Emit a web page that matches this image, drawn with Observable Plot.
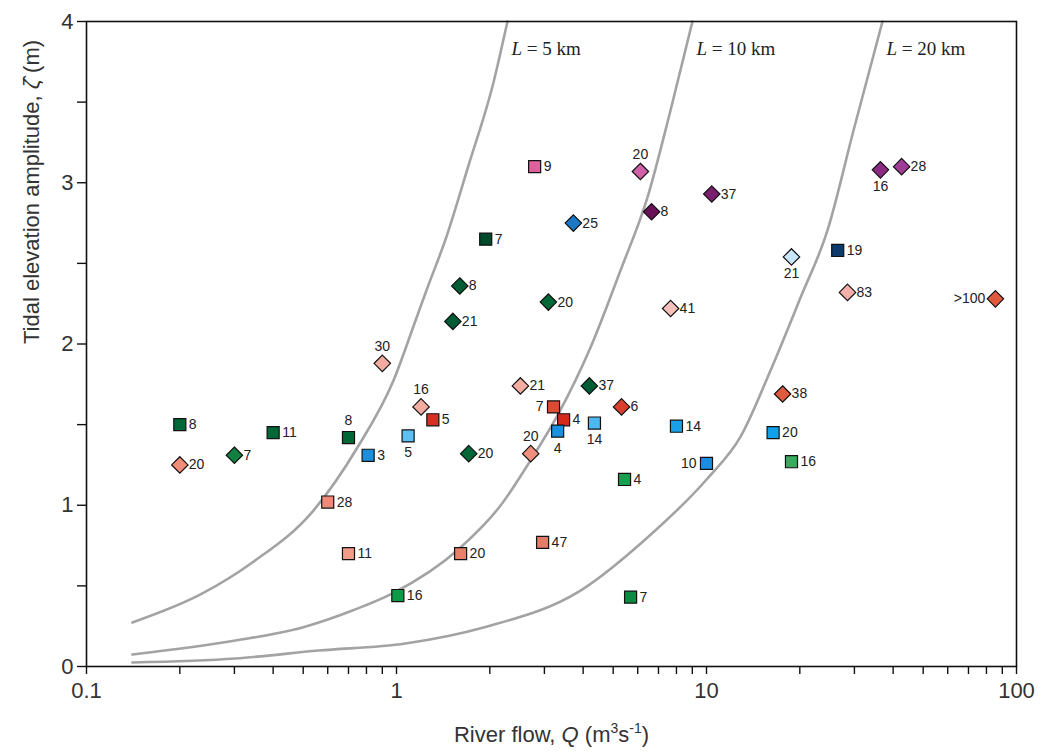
<!DOCTYPE html>
<html><head><meta charset="utf-8">
<script src="https://cdn.jsdelivr.net/npm/d3@7"></script>
<script src="https://cdn.jsdelivr.net/npm/@observablehq/plot@0.6"></script>
<style>body{margin:0;background:#fff}</style>
</head><body><div id="chart"></div>
<script>
// River flow Q (m3/s) of each estuary
const flowQ = [0.20,0.20,0.30,0.40,0.70,0.81,0.60,0.70,0.90,1.20,
               1.31,1.09,1.71,1.61,1.01,2.51,3.21,3.46,3.31,2.71,
               4.19,5.32,4.35,5.44,2.96,5.69,2.79,6.12,6.65,10.4,
               3.72,1.94,1.60,1.52,3.09,7.66,8.0,10.0,17.6,16.4,
               18.8,18.8,26.5,28.5,36.4,42.6,85.5];
// Tidal elevation amplitude (m)
const zeta  = [1.50,1.25,1.31,1.45,1.42,1.31,1.02,0.70,1.88,1.61,
               1.53,1.43,1.32,0.70,0.44,1.74,1.61,1.53,1.46,1.32,
               1.74,1.61,1.51,1.16,0.77,0.43,3.10,3.07,2.82,2.93,
               2.75,2.65,2.36,2.14,2.26,2.22,1.49,1.26,1.69,1.45,
               1.27,2.54,2.58,2.32,3.08,3.10,2.28];
// Point annotations
const labels = ["8","20","7","11","8","3","28","11","30","16",
                "5","5","20","20","16","21","7","4","4","20",
                "37","6","14","4","47","7","9","20","8","37",
                "25","7","8","21","20","41","14","10","38","20",
                "16","21","19","83","16","28",">100"];
// s = square, d = diamond
const shapes = ["s","d","d","s","s","s","s","s","d","d",
                "s","s","d","s","s","d","s","s","s","d",
                "d","d","s","s","s","s","s","d","d","d",
                "d","s","d","d","d","d","s","s","d","s",
                "s","d","s","d","d","d","d"];
// label side: R right, L left, A above, B below
const sides  = ["R","R","R","R","A","R","R","R","A","A",
                "R","B","R","R","R","R","L","R","B","A",
                "R","R","B","R","R","R","R","A","R","R",
                "R","R","R","R","R","R","R","L","R","R",
                "R","B","R","R","B","R","L"];
const colors = ["#006837","#f08c78","#128040","#006837","#006837","#1a8fe0","#ee8a78","#f09c88","#f4aca0","#f4aca0",
                "#d73022","#5cc0f5","#006837","#e8806c","#0f9a48","#f4aca0","#e04a32","#d42a1c","#1a90e0","#f0907c",
                "#005c34","#d9402c","#4cb8f2","#18a050","#e47c68","#0c8c42","#e0609e","#d060a8","#6a1258","#7a1e6e",
                "#1a78c4","#004a2c","#005c34","#005c34","#006837","#f8c0bc","#1aa0e8","#1a8ee0","#e05a40","#12a0e8",
                "#3aaa5c","#c8e6fa","#0c3a6c","#f4b0a8","#8a2a80","#a03c98","#e05a40"];

// Convergence-length curves
const curve5Q  = [0.1406,0.2366,0.3427,0.5395,0.748,0.978,1.152,1.259,1.439,1.707,2.055,2.28];
const curve5Z  = [0.273,0.453,0.645,0.967,1.358,1.774,2.146,2.350,2.648,3.107,3.622,4.0];
const curve10Q = [0.1406,0.3024,0.4974,0.721,0.971,1.609,2.166,2.706,3.307,4.225,5.279,6.451,7.654,9.01];
const curve10Z = [0.074,0.161,0.242,0.347,0.453,0.738,0.998,1.278,1.557,1.978,2.456,2.909,3.448,4.0];
const curve20Q = [0.1406,0.3024,0.560,1.069,1.908,3.923,6.451,10.07,12.88,16.09,20.11,24.56,29.8,36.96];
const curve20Z = [0.025,0.050,0.099,0.143,0.242,0.471,0.80,1.166,1.426,1.836,2.288,2.704,3.324,4.0];
const curveNames = ["L = 5 km","L = 10 km","L = 20 km"];

const xMajor = [0.1,1,10,100];
const xMinor = [2,3,4,5,6,7,8,9].flatMap(m => [0.1,1,10].map(d => +(m*d).toPrecision(3)));
const yMajor = [0,1,2,3,4];
const yMinor = [0.5,1.5,2.5,3.5];

const xTitle = "River flow, Q (m3s-1)";
const yTitle = "Tidal elevation amplitude, ζ̂ (m)";

const points = flowQ.map((q,i)=>({q, z: zeta[i], label: labels[i], shape: shapes[i], color: colors[i], side: sides[i]}));
const curveSets = [[curve5Q,curve5Z],[curve10Q,curve10Z],[curve20Q,curve20Z]];
const curveRows = curveSets.flatMap(([qs,zs],k) => qs.map((q,i)=>({curve: curveNames[k], q, z: zs[i]})));
const curveLabels = curveSets.map(([qs],k)=>({text: curveNames[k], q: qs[qs.length-1]}));

const labelFont = {fontSize: 14, fill: "#222", fontFamily: "Liberation Sans"};

const chart = Plot.plot({
  width: 1047, height: 754,
  marginLeft: 86, marginRight: 31, marginTop: 21, marginBottom: 88,
  style: {fontFamily: "Liberation Sans", background: "white", color: "#333"},
  x: {type: "log", domain: [0.1, 100]},
  y: {domain: [0, 4]},
  color: {type: "identity"},
  marks: [
    Plot.line(curveRows, {x: "q", y: "z", z: "curve", stroke: "#a3a3a3", strokeWidth: 2.6, curve: "monotone-x"}),
    Plot.text(curveLabels, {x: "q", y: 3.83, text: "text", textAnchor: "start", dx: 4, fontSize: 19, fontFamily: "Liberation Serif", fill: "#222"}),
    Plot.dot(points.filter(d=>d.shape==="s"), {x: "q", y: "z", symbol: "square", r: 6.8, fill: "color", stroke: "#111", strokeWidth: 1.2}),
    Plot.dot(points.filter(d=>d.shape==="d"), {x: "q", y: "z", symbol: "diamond2", r: 7.4, fill: "color", stroke: "#111", strokeWidth: 1.2}),
    Plot.text(points.filter(d=>d.side==="R"), {x: "q", y: "z", text: "label", textAnchor: "start", dx: 9, ...labelFont}),
    Plot.text(points.filter(d=>d.side==="L"), {x: "q", y: "z", text: "label", textAnchor: "end", dx: -10, ...labelFont}),
    Plot.text(points.filter(d=>d.side==="A"), {x: "q", y: "z", text: "label", dy: -17, ...labelFont}),
    Plot.text(points.filter(d=>d.side==="B"), {x: "q", y: "z", text: "label", dy: 17, ...labelFont}),
    Plot.axisX({ticks: xMajor, tickFormat: d => String(d), tickSize: 8, tickPadding: 8, fontSize: 22, strokeWidth: 1.4, stroke: "#111", label: null}),
    Plot.axisX({ticks: xMinor, tickFormat: () => "", tickSize: 8, strokeWidth: 1.4, stroke: "#111", label: null}),
    Plot.axisY({ticks: yMajor, tickFormat: d => String(d), tickSize: 9, tickPadding: 4, fontSize: 22, strokeWidth: 1.4, stroke: "#111", label: null}),
    Plot.axisY({ticks: yMinor, tickFormat: () => "", tickSize: 9, strokeWidth: 1.4, stroke: "#111", label: null}),
    Plot.frame({stroke: "#111", strokeWidth: 1.6}),
    Plot.text([xTitle], {frameAnchor: "bottom", dy: 75, fontSize: 22, fill: "#333"}),
    Plot.text([yTitle], {frameAnchor: "left", dx: -55, rotate: -90, fontSize: 22, fill: "#333"})
  ]
});
document.getElementById("chart").appendChild(chart);

const svg = d3.select(chart);
const byText = pred => svg.selectAll("text").filter(function(){ return pred(this.textContent); });
byText(t => curveNames.includes(t)).each(function(){
  const rest = this.textContent.replace(/^L/, "");
  const t = d3.select(this); this.textContent = "";
  t.append("tspan").attr("font-style","italic").text("L");
  t.append("tspan").text(rest);
});
byText(t => t === xTitle).each(function(){
  const t = d3.select(this); this.textContent = "";
  t.append("tspan").text("River flow, ");
  t.append("tspan").attr("font-style","italic").text("Q");
  t.append("tspan").text(" (m");
  t.append("tspan").attr("font-size",14).attr("dy",-9).text("3");
  t.append("tspan").attr("dy",9).text("s");
  t.append("tspan").attr("font-size",14).attr("dy",-9).text("-1");
  t.append("tspan").attr("dy",9).text(")");
});
byText(t => t === yTitle).each(function(){
  const t = d3.select(this); this.textContent = "";
  t.append("tspan").text("Tidal elevation amplitude, ");
  t.append("tspan").attr("font-style","italic").text("ζ̂");
  t.append("tspan").text(" (m)");
});
</script></body></html>
